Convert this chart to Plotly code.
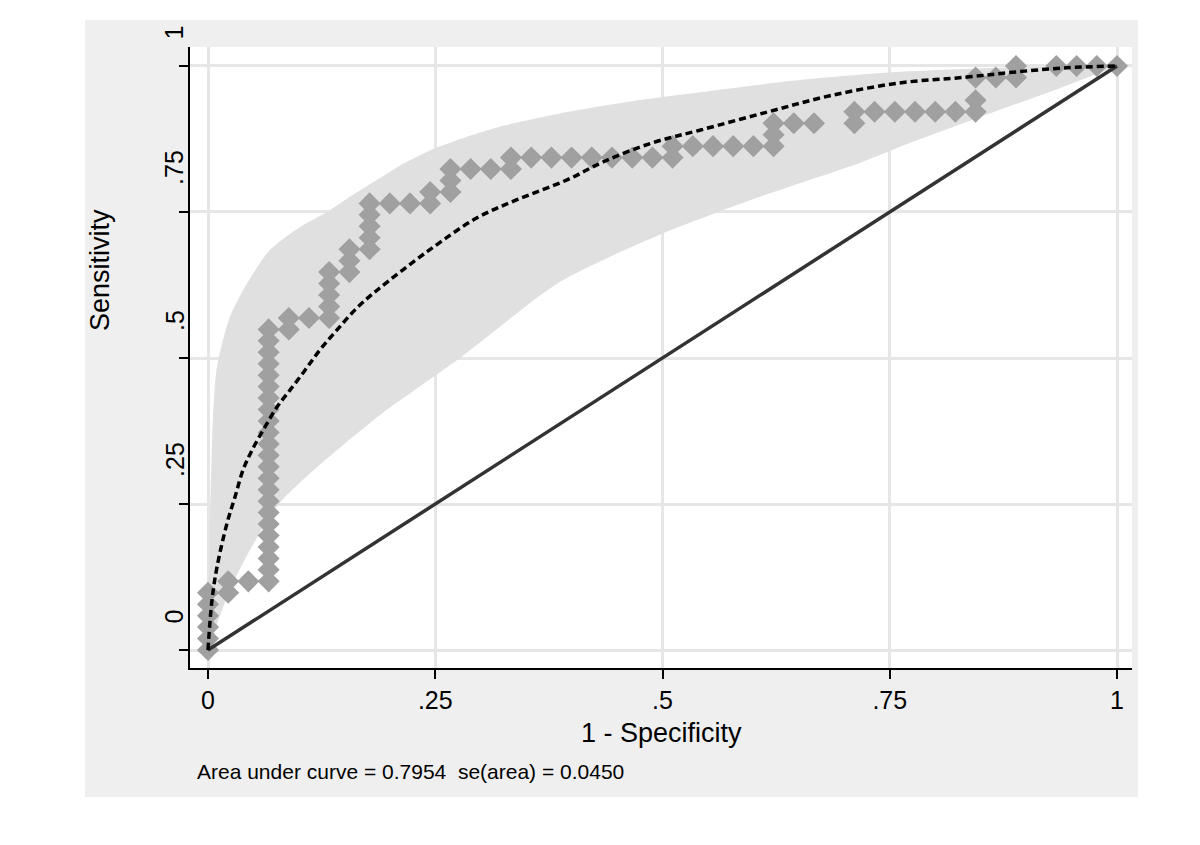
import plotly.graph_objects as go

# fitted ROC curve (dashed)
fit_x = [0, 0.0044, 0.0099, 0.0209, 0.0297, 0.0385, 0.0484, 0.0627, 0.0759, 0.0902,
         0.1067, 0.1232, 0.1419, 0.164, 0.186, 0.241, 0.296, 0.340, 0.395, 0.435,
         0.488, 0.541, 0.615, 0.684, 0.761, 0.835, 0.890, 0.945, 1]
fit_y = [0, 0.0856, 0.142, 0.217, 0.262, 0.308, 0.342, 0.382, 0.416, 0.445,
         0.479, 0.514, 0.548, 0.586, 0.616, 0.682, 0.740, 0.771, 0.805, 0.836,
         0.868, 0.890, 0.921, 0.949, 0.971, 0.981, 0.990, 0.997, 1]

# confidence band edges
band_up_x = [0, 0.0011, 0.0033, 0.0055, 0.0099, 0.024, 0.043, 0.068, 0.101, 0.131,
             0.156, 0.184, 0.215, 0.248, 0.285, 0.321, 0.395, 0.468, 0.541, 0.651,
             0.761, 0.871, 1]
band_up_y = [0, 0.154, 0.291, 0.399, 0.485, 0.570, 0.628, 0.685, 0.724, 0.750,
             0.776, 0.803, 0.833, 0.858, 0.879, 0.896, 0.921, 0.940, 0.955, 0.976,
             0.990, 0.997, 1]
band_lo_x = [0, 0.0077, 0.024, 0.046, 0.079, 0.123, 0.189, 0.277, 0.387, 0.497,
             0.607, 0.717, 0.772, 0.871, 0.937, 1]
band_lo_y = [0, 0.034, 0.103, 0.171, 0.252, 0.317, 0.402, 0.5, 0.630, 0.711,
             0.776, 0.834, 0.868, 0.925, 0.962, 1]

# empirical ROC points (diamonds)
emp_x = [0, 0, 0, 0, 0, 0,
         0.0222, 0.0222,
         0.0444,
         0.0667, 0.0667, 0.0667, 0.0667, 0.0667, 0.0667, 0.0667, 0.0667, 0.0667, 0.0667,
         0.0667, 0.0667, 0.0667, 0.0667, 0.0667, 0.0667, 0.0667, 0.0667, 0.0667, 0.0667,
         0.0667, 0.0667, 0.0667,
         0.0889, 0.0889,
         0.1111,
         0.1333, 0.1333, 0.1333, 0.1333, 0.1333,
         0.1556, 0.1556, 0.1556,
         0.1778, 0.1778, 0.1778, 0.1778, 0.1778,
         0.2, 0.2222,
         0.2444, 0.2444,
         0.2667, 0.2667, 0.2667,
         0.2889, 0.3111,
         0.3333, 0.3333,
         0.3556, 0.3778, 0.4, 0.4222, 0.4444, 0.4667, 0.4889, 0.5111,
         0.5111,
         0.5333, 0.5556, 0.5778, 0.6, 0.6222,
         0.6222, 0.6222,
         0.6444, 0.6667,
         0.7111, 0.7111,
         0.7333, 0.7556, 0.7778, 0.8, 0.8222, 0.8444,
         0.8444, 0.8444,
         0.8667,
         0.8889, 0.8889,
         0.9333, 0.9556, 0.9778, 1]
emp_y = [0, 0.0196, 0.0392, 0.0588, 0.0784, 0.098,
         0.098, 0.1176,
         0.1176,
         0.1176, 0.1373, 0.1569, 0.1765, 0.1961, 0.2157, 0.2353, 0.2549, 0.2745, 0.2941,
         0.3137, 0.3333, 0.3529, 0.3725, 0.3922, 0.4118, 0.4314, 0.451, 0.4706, 0.4902,
         0.5098, 0.5294, 0.549,
         0.549, 0.5686,
         0.5686,
         0.5686, 0.5882, 0.6078, 0.6275, 0.6471,
         0.6471, 0.6667, 0.6863,
         0.6863, 0.7059, 0.7255, 0.7451, 0.7647,
         0.7647, 0.7647,
         0.7647, 0.7843,
         0.7843, 0.8039, 0.8235,
         0.8235, 0.8235,
         0.8235, 0.8431,
         0.8431, 0.8431, 0.8431, 0.8431, 0.8431, 0.8431, 0.8431, 0.8431,
         0.8627,
         0.8627, 0.8627, 0.8627, 0.8627, 0.8627,
         0.8824, 0.902,
         0.902, 0.902,
         0.902, 0.9216,
         0.9216, 0.9216, 0.9216, 0.9216, 0.9216, 0.9216,
         0.9412, 0.9804,
         0.9804,
         0.9804, 1,
         1, 1, 1, 1]

ref_x = [0, 1]
ref_y = [0, 1]

tick_vals = [0, 0.25, 0.5, 0.75, 1]
tick_text = ["0", ".25", ".5", ".75", "1"]

FONT = "Liberation Sans, Arial, sans-serif"

fig = go.Figure()

# confidence band as one closed polygon
fig.add_trace(go.Scatter(
    x=band_up_x + band_lo_x[::-1],
    y=band_up_y + band_lo_y[::-1],
    fill='toself', fillcolor='#e0e0e0',
    line=dict(width=0, shape='spline', smoothing=0.7), mode='lines',
    hoverinfo='skip', showlegend=False
))

fig.add_trace(go.Scatter(
    x=emp_x, y=emp_y, mode='markers',
    marker=dict(symbol='diamond', size=17, color='#a0a0a0', line=dict(width=0)),
    showlegend=False
))

fig.add_trace(go.Scatter(
    x=ref_x, y=ref_y, mode='lines',
    line=dict(color='#333333', width=3.5),
    showlegend=False
))

fig.add_trace(go.Scatter(
    x=fit_x, y=fit_y, mode='lines',
    line=dict(color='black', width=3.5, dash='7px,4px', shape='spline'),
    showlegend=False
))

# graph region (light gray) and white plot region
fig.add_shape(type='rect', xref='paper', yref='paper',
              x0=-0.1115, x1=1.0064, y0=-0.2077, y1=1.0435,
              fillcolor='#efefef', line=dict(width=0), layer='below')
fig.add_shape(type='rect', xref='paper', yref='paper',
              x0=0, x1=1, y0=0, y1=1,
              fillcolor='white', line=dict(width=0), layer='below')

# rotated y tick labels, shifted above their ticks as in the original
for v, t in zip(tick_vals, tick_text):
    fig.add_annotation(x=-0.0165, xref='paper', y=v, yref='y',
                       text=t, textangle=-90, showarrow=False,
                       xanchor='center', yanchor='bottom', yshift=25,
                       font=dict(family=FONT, size=25, color='black'))

fig.add_annotation(x=-0.0955, xref='paper', y=0.641, yref='paper',
                   text="Sensitivity", textangle=-90, showarrow=False,
                   xanchor='center', yanchor='middle',
                   font=dict(family=FONT, size=27, color='black'))
fig.add_annotation(x=0.5, xref='paper', y=-0.1047, yref='paper',
                   text="1 - Specificity", showarrow=False,
                   xanchor='center', yanchor='middle',
                   font=dict(family=FONT, size=27, color='black'))
fig.add_annotation(x=0.0053, xref='paper', y=-0.1659, yref='paper',
                   text="Area under curve = 0.7954  se(area) = 0.0450", showarrow=False,
                   xanchor='left', yanchor='middle',
                   font=dict(family=FONT, size=21, color='black'))

fig.update_xaxes(range=[-0.0198, 1.0165], tickvals=tick_vals, ticktext=tick_text,
                 showgrid=True, gridcolor='#e6e6e6', gridwidth=2.5, zeroline=False,
                 showline=True, linecolor='black', linewidth=1.5,
                 ticks='outside', ticklen=9, tickwidth=1.5, tickcolor='black',
                 tickfont=dict(family=FONT, size=25, color='black'))
fig.update_yaxes(range=[-0.0308, 1.0325], tickvals=tick_vals, showticklabels=False,
                 showgrid=True, gridcolor='#e6e6e6', gridwidth=2.5, zeroline=False,
                 showline=True, linecolor='black', linewidth=1.5,
                 ticks='outside', ticklen=9, tickwidth=1.5, tickcolor='black')

# the page adds an 8px body margin, so the margins are trimmed by 8
fig.update_layout(
    width=1200, height=845,
    margin=dict(l=182, r=76, t=39, b=185),
    paper_bgcolor='white', plot_bgcolor='white',
    showlegend=False
)

fig.write_html("out.html")
